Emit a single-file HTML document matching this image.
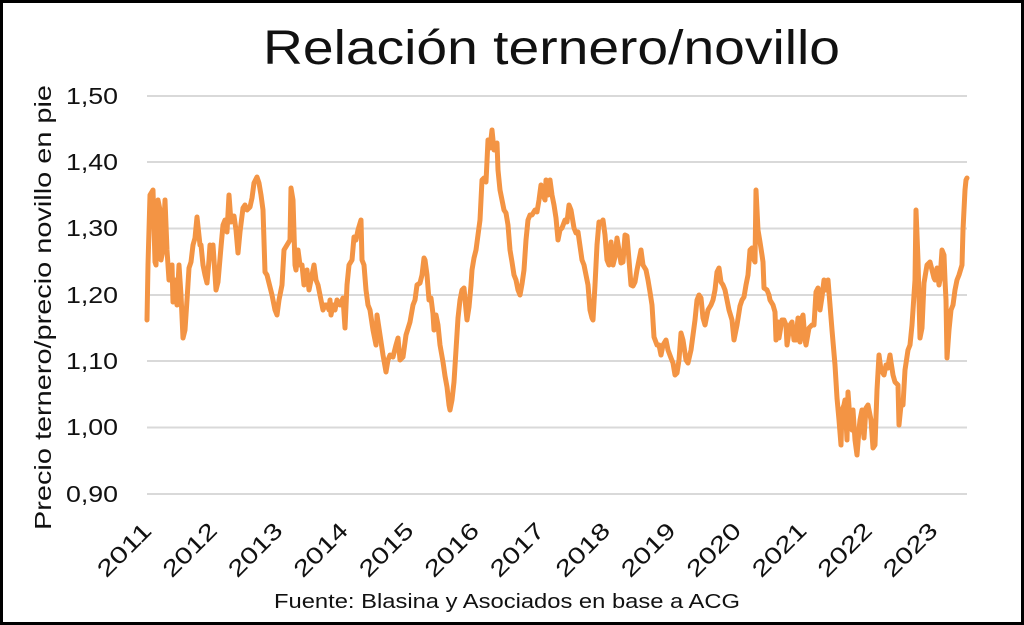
<!DOCTYPE html>
<html><head><meta charset="utf-8"><style>
html,body{margin:0;padding:0;background:#fff;}
svg{display:block;}
text{font-family:"Liberation Sans",sans-serif;fill:#111;}
</style></head><body>
<svg width="1024" height="625" viewBox="0 0 1024 625" xmlns="http://www.w3.org/2000/svg">
<rect x="1.5" y="1.5" width="1021" height="622" fill="#fff" stroke="#000" stroke-width="3"/>
<text x="263" y="64" font-size="48" textLength="577" lengthAdjust="spacingAndGlyphs">Relación ternero/novillo</text>
<g stroke="#d9d9d9" stroke-width="2">
<line x1="147" x2="967" y1="96" y2="96"/>
<line x1="147" x2="967" y1="162" y2="162"/>
<line x1="147" x2="967" y1="228.5" y2="228.5"/>
<line x1="147" x2="967" y1="295" y2="295"/>
<line x1="147" x2="967" y1="361" y2="361"/>
<line x1="147" x2="967" y1="427.5" y2="427.5"/>
<line x1="147" x2="967" y1="494" y2="494"/>
</g>
<g font-size="23">
<text x="66" y="104" textLength="52" lengthAdjust="spacingAndGlyphs">1,50</text>
<text x="66" y="170" textLength="52" lengthAdjust="spacingAndGlyphs">1,40</text>
<text x="66" y="236" textLength="52" lengthAdjust="spacingAndGlyphs">1,30</text>
<text x="66" y="303" textLength="52" lengthAdjust="spacingAndGlyphs">1,20</text>
<text x="66" y="369" textLength="52" lengthAdjust="spacingAndGlyphs">1,10</text>
<text x="66" y="435" textLength="52" lengthAdjust="spacingAndGlyphs">1,00</text>
<text x="66" y="502" textLength="52" lengthAdjust="spacingAndGlyphs">0,90</text>
</g>
<text transform="translate(51,530) rotate(-90)" font-size="23" textLength="445" lengthAdjust="spacingAndGlyphs">Precio ternero/precio novillo en pie</text>
<g font-size="23" text-anchor="end">
<text transform="translate(153,532) rotate(-45)" textLength="66" lengthAdjust="spacingAndGlyphs">2011</text>
<text transform="translate(218.5,532) rotate(-45)" textLength="66" lengthAdjust="spacingAndGlyphs">2012</text>
<text transform="translate(284,532) rotate(-45)" textLength="66" lengthAdjust="spacingAndGlyphs">2013</text>
<text transform="translate(349.5,532) rotate(-45)" textLength="66" lengthAdjust="spacingAndGlyphs">2014</text>
<text transform="translate(415,532) rotate(-45)" textLength="66" lengthAdjust="spacingAndGlyphs">2015</text>
<text transform="translate(480.5,532) rotate(-45)" textLength="66" lengthAdjust="spacingAndGlyphs">2016</text>
<text transform="translate(546,532) rotate(-45)" textLength="66" lengthAdjust="spacingAndGlyphs">2017</text>
<text transform="translate(611.5,532) rotate(-45)" textLength="66" lengthAdjust="spacingAndGlyphs">2018</text>
<text transform="translate(677,532) rotate(-45)" textLength="66" lengthAdjust="spacingAndGlyphs">2019</text>
<text transform="translate(742.5,532) rotate(-45)" textLength="66" lengthAdjust="spacingAndGlyphs">2020</text>
<text transform="translate(808,532) rotate(-45)" textLength="66" lengthAdjust="spacingAndGlyphs">2021</text>
<text transform="translate(873.5,532) rotate(-45)" textLength="66" lengthAdjust="spacingAndGlyphs">2022</text>
<text transform="translate(939,532) rotate(-45)" textLength="66" lengthAdjust="spacingAndGlyphs">2023</text>
</g>
<text x="274" y="608" font-size="20" textLength="466" lengthAdjust="spacingAndGlyphs">Fuente: Blasina y Asociados en base a ACG</text>
<polyline fill="none" stroke="#f39444" stroke-width="5" stroke-linejoin="round" stroke-linecap="round" points="
147,320 148,265 150,195 153,190 155,262 156,265 158,200 160,210 161,260 163,250 165,200 167,250 169,280 172,265 173,302 175,280 177,305 179,265 181,295 183,338 185,330 187,300 189,268 191,262 193,245 195,238 197,217 200,245 201,245 203,265 205,275 207,283 209,260 210,245 212,250 213,245 215,275 216,290 218,282 221,247 223,225 225,220 227,232 229,195 231,222 234,216 236,230 238,253 240,232 243,208 245,205 247,210 250,207 252,198 254,183 257,177 259,183 261,195 263,210 265,272 267,275 269,283 272,295 275,310 277,315 279,300 282,285 284,250 287,245 290,240 291,188 293,200 295,265 296,270 298,250 300,265 302,265 304,285 307,270 309,290 312,275 314,265 316,280 318,285 321,300 323,310 325,305 327,305 329,310 330,300 331,315 333,305 335,310 337,300 340,305 343,298 345,328 347,285 349,265 352,260 354,237 356,240 358,230 361,220 362,260 364,265 366,290 368,305 370,310 373,330 376,345 377,315 380,335 383,355 386,372 388,360 390,355 393,357 396,345 398,338 400,360 403,357 406,335 410,322 413,305 415,300 417,285 420,283 422,275 424,258 425,260 427,275 429,300 431,298 433,314 434,330 436,315 438,325 440,345 443,362 445,376 447,387 449,405 450,410 452,400 454,382 456,350 458,318 460,300 462,290 464,288 466,310 467,320 469,307 471,285 472,270 474,258 476,250 478,235 480,220 482,180 484,178 486,182 488,140 490,148 492,130 494,150 496,145 497,143 498,170 500,190 502,200 504,210 506,213 508,225 510,250 512,262 514,275 516,280 518,290 520,295 522,284 524,270 526,240 528,220 530,215 532,215 535,210 537,212 539,200 541,185 543,195 545,200 546,180 548,195 550,180 552,195 554,205 556,218 558,240 560,230 562,228 565,220 567,222 569,205 571,210 574,228 576,233 578,232 580,246 582,260 584,265 586,275 588,285 590,310 592,318 593,320 595,285 597,245 599,222 601,223 603,220 605,235 607,260 609,265 611,242 613,265 615,257 617,238 619,250 621,263 623,262 625,235 627,236 629,260 631,285 633,286 635,282 637,270 639,260 641,250 643,265 646,270 648,280 650,292 652,305 654,337 657,345 659,345 661,355 663,345 666,340 668,350 671,358 673,363 675,375 677,373 679,360 681,333 683,340 686,360 688,363 691,350 693,335 695,320 697,300 699,295 701,298 703,318 705,325 708,310 711,305 713,300 715,290 717,272 719,268 721,282 723,285 725,290 727,300 729,310 732,320 734,340 737,325 740,306 742,300 744,297 746,285 748,275 750,250 752,248 754,260 755,262 756,190 758,230 760,242 762,255 763,262 764,288 767,290 769,295 770,300 773,305 775,312 776,340 778,322 779,338 782,320 784,320 786,325 787,345 790,325 792,322 794,340 796,340 798,318 800,342 801,320 803,315 805,340 806,345 809,328 812,325 814,325 816,292 818,288 820,310 822,297 824,280 826,290 828,280 830,305 832,330 835,365 837,398 839,420 841,445 842,410 844,405 845,400 847,440 848,392 850,420 852,430 853,410 855,440 857,455 859,430 860,420 862,410 864,438 866,408 868,405 871,420 873,448 875,445 877,390 879,355 881,370 884,375 886,365 888,368 889,360 890,355 891,362 893,375 895,382 898,385 899,425 901,405 903,405 905,370 908,350 910,345 912,325 914,295 915,280 916,210 918,260 920,338 922,328 924,283 927,265 930,262 932,270 934,278 935,280 937,268 939,285 940,280 942,250 944,255 945,280 946,300 947,358 949,330 951,310 953,305 955,290 957,280 959,275 962,265 963,230 965,190 966,180 967,178"/>
</svg>
</body></html>
